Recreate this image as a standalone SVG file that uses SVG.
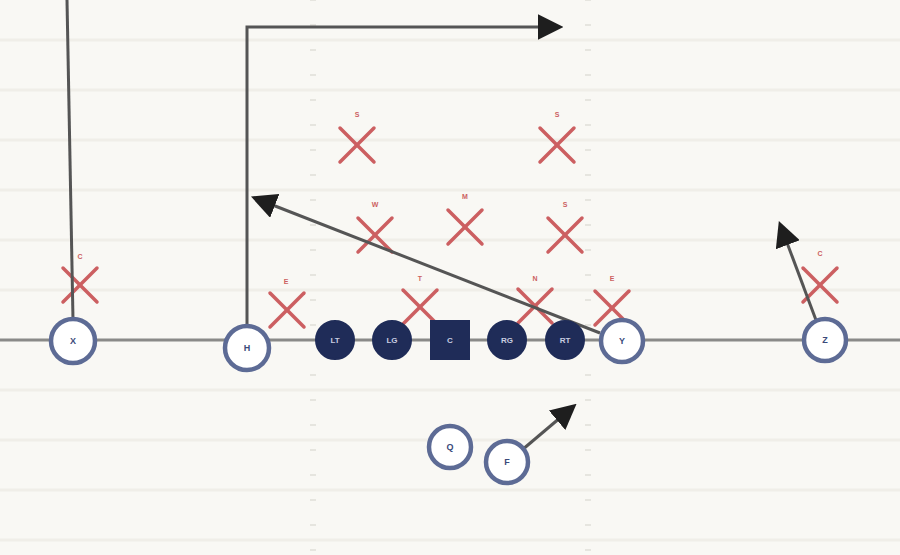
<svg xmlns="http://www.w3.org/2000/svg" width="900" height="555" viewBox="0 0 900 555">
<defs>
<style>
.yard{stroke:#f0eee8;stroke-width:3}
.hash{stroke:#e0ded7;stroke-width:1.5}
.los{stroke:#8a8a88;stroke-width:3}
.route{stroke:#555;stroke-width:3;fill:none}
.def line{stroke:#cc5f61;stroke-width:3.5;stroke-linecap:round}
.def text{fill:#cc5f61;font-family:"Liberation Sans",Arial,sans-serif;font-size:7px;font-weight:bold;text-anchor:middle}
.ol circle,.ol rect{fill:#1f2c58;stroke:#1f2c58;stroke-width:2}
.ol text{fill:#c8cde0;font-family:"Liberation Sans",Arial,sans-serif;font-size:8px;font-weight:bold;text-anchor:middle;dominant-baseline:central}
.sk circle{fill:#fff;stroke:#5d6b95;stroke-width:4.5}
.sk text{fill:#3b4a7a;font-family:"Liberation Sans",Arial,sans-serif;font-size:9px;font-weight:bold;text-anchor:middle;dominant-baseline:central}
</style>
<marker id="ah" viewBox="0 0 10 10" refX="2" refY="5" markerWidth="8.5" markerHeight="8.5" markerUnits="strokeWidth" orient="auto">
<path d="M0,0 L10,5 L0,10 z" fill="#1e1e1e"/>
</marker>
</defs>
<rect width="900" height="555" fill="#f9f8f4"/>
<g id="field">
<line class="yard" x1="0" y1="40" x2="900" y2="40"/>
<line class="yard" x1="0" y1="90" x2="900" y2="90"/>
<line class="yard" x1="0" y1="140" x2="900" y2="140"/>
<line class="yard" x1="0" y1="190" x2="900" y2="190"/>
<line class="yard" x1="0" y1="240" x2="900" y2="240"/>
<line class="yard" x1="0" y1="290" x2="900" y2="290"/>
<line class="yard" x1="0" y1="390" x2="900" y2="390"/>
<line class="yard" x1="0" y1="440" x2="900" y2="440"/>
<line class="yard" x1="0" y1="490" x2="900" y2="490"/>
<line class="yard" x1="0" y1="540" x2="900" y2="540"/>
<path class="hash" d="M310,0h6M310,25h6M310,50h6M310,75h6M310,100h6M310,125h6M310,150h6M310,175h6M310,200h6M310,225h6M310,250h6M310,275h6M310,300h6M310,325h6M310,375h6M310,400h6M310,425h6M310,450h6M310,475h6M310,500h6M310,525h6M310,550h6M585,0h6M585,25h6M585,50h6M585,75h6M585,100h6M585,125h6M585,150h6M585,175h6M585,200h6M585,225h6M585,250h6M585,275h6M585,300h6M585,325h6M585,375h6M585,400h6M585,425h6M585,450h6M585,475h6M585,500h6M585,525h6M585,550h6"/>
<line class="los" x1="0" y1="340" x2="900" y2="340"/>
</g>
<g id="defense" class="def">
<g id="d-c1"><line x1="63" y1="268" x2="97" y2="302"/><line x1="97" y1="268" x2="63" y2="302"/><text x="80" y="259">C</text></g>
<g id="d-e1"><line x1="270" y1="293" x2="304" y2="327"/><line x1="304" y1="293" x2="270" y2="327"/><text x="286" y="284">E</text></g>
<g id="d-s1"><line x1="340" y1="128" x2="374" y2="162"/><line x1="374" y1="128" x2="340" y2="162"/><text x="357" y="117">S</text></g>
<g id="d-s2"><line x1="540" y1="128" x2="574" y2="162"/><line x1="574" y1="128" x2="540" y2="162"/><text x="557" y="117">S</text></g>
<g id="d-w"><line x1="358" y1="218" x2="392" y2="252"/><line x1="392" y1="218" x2="358" y2="252"/><text x="375" y="207">W</text></g>
<g id="d-m"><line x1="448" y1="210" x2="482" y2="244"/><line x1="482" y1="210" x2="448" y2="244"/><text x="465" y="199">M</text></g>
<g id="d-b"><line x1="548" y1="218" x2="582" y2="252"/><line x1="582" y1="218" x2="548" y2="252"/><text x="565" y="207">S</text></g>
<g id="d-t"><line x1="403" y1="290" x2="437" y2="324"/><line x1="437" y1="290" x2="403" y2="324"/><text x="420" y="281">T</text></g>
<g id="d-n"><line x1="518" y1="289" x2="552" y2="323"/><line x1="552" y1="289" x2="518" y2="323"/><text x="535" y="281">N</text></g>
<g id="d-e2"><line x1="595" y1="291" x2="629" y2="325"/><line x1="629" y1="291" x2="595" y2="325"/><text x="612" y="281">E</text></g>
<g id="d-c2"><line x1="803" y1="268" x2="837" y2="302"/><line x1="837" y1="268" x2="803" y2="302"/><text x="820" y="256">C</text></g>
</g>
<g id="connectors">
<path class="route" d="M73,320 L67,0"/>
<path class="route" d="M247,326 L247,27 L543,27" marker-end="url(#ah)"/>
<path class="route" d="M600,333 L270,204" marker-end="url(#ah)"/>
<path class="route" d="M816,320 L786,240" marker-end="url(#ah)"/>
<path class="route" d="M522,450 L561,417" marker-end="url(#ah)"/>
</g>
<g id="offense">
<g id="X" class="sk"><circle cx="73" cy="341" r="22"/><text x="73" y="341">X</text></g>
<g id="H" class="sk"><circle cx="247" cy="348" r="22"/><text x="247" y="348">H</text></g>
<g id="LT" class="ol"><circle cx="335" cy="340" r="19"/><text x="335" y="340">LT</text></g>
<g id="LG" class="ol"><circle cx="392" cy="340" r="19"/><text x="392" y="340">LG</text></g>
<g id="C" class="ol"><rect x="431" y="321" width="38" height="38"/><text x="450" y="340">C</text></g>
<g id="RG" class="ol"><circle cx="507" cy="340" r="19"/><text x="507" y="340">RG</text></g>
<g id="RT" class="ol"><circle cx="565" cy="340" r="19"/><text x="565" y="340">RT</text></g>
<g id="Y" class="sk"><circle cx="622" cy="341" r="21"/><text x="622" y="341">Y</text></g>
<g id="Z" class="sk"><circle cx="825" cy="340" r="21"/><text x="825" y="340">Z</text></g>
<g id="Q" class="sk"><circle cx="450" cy="447" r="21"/><text x="450" y="447">Q</text></g>
<g id="F" class="sk"><circle cx="507" cy="462" r="21"/><text x="507" y="462">F</text></g>
</g>
</svg>
